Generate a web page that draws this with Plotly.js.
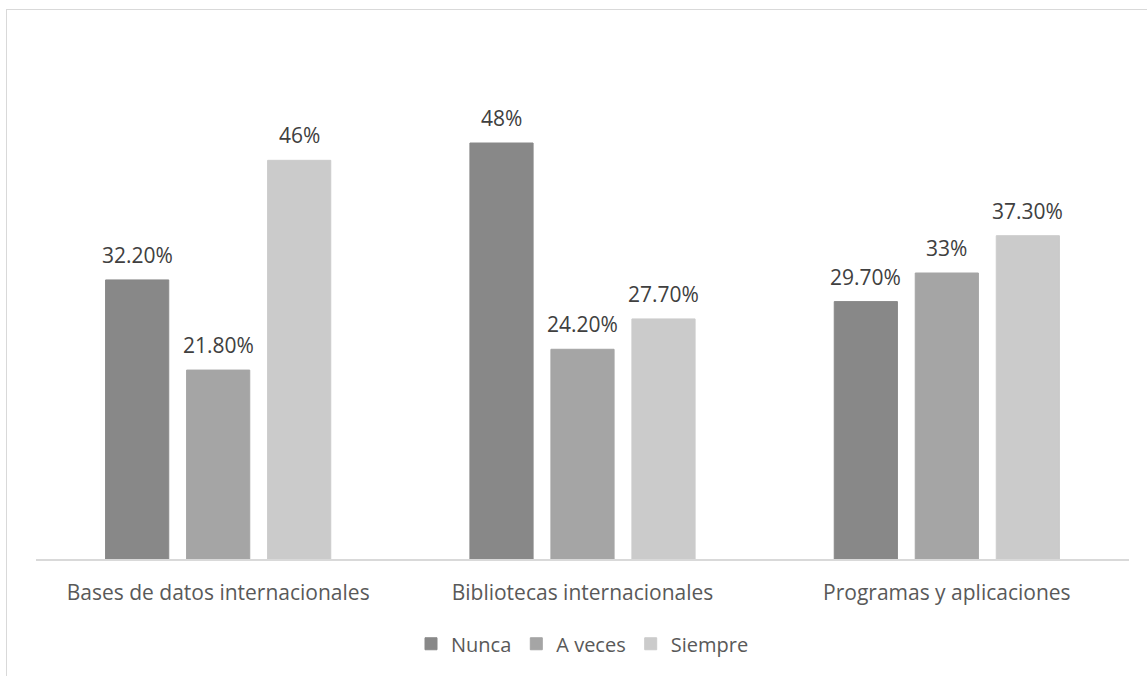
<!DOCTYPE html>
<html>
<head>
<meta charset="utf-8">
<script src="https://cdn.plot.ly/plotly-3.0.1.min.js"></script>
<style>
  html, body { margin: 0; padding: 0; background: #ffffff; overflow: hidden; }
  #chart { position: absolute; left: 0; top: 0; width: 1147px; height: 676px; }
  #frame { position: absolute; left: 6px; top: 9px; width: 1200px; height: 720px;
           border-left: 1.5px solid #d9d9d9; border-top: 1.5px solid #d9d9d9; pointer-events: none; }
</style>
</head>
<body>
<div id="chart"></div>
<div id="frame"></div>
<script>
// ---- data ----
const categories = ['Bases de datos internacionales', 'Bibliotecas internacionales', 'Programas y aplicaciones'];
const seriesNames = ['Nunca', 'A veces', 'Siempre'];
const nunca = [32.2, 48, 29.7];
const aVeces = [21.8, 24.2, 33];
const siempre = [46, 27.7, 37.3];
const nuncaLabels = ['32.20%', '48%', '29.70%'];
const aVecesLabels = ['21.80%', '24.20%', '33%'];
const siempreLabels = ['46%', '27.70%', '37.30%'];

// ---- styles ----
const colors = ['#888888', '#a5a5a5', '#cbcbcb'];
const font = 'Open Sans, sans-serif';
const values = [nunca, aVeces, siempre];
const labels = [nuncaLabels, aVecesLabels, siempreLabels];
const groupShift = [-81, 0, 81];

const traces = values.map((v, i) => ({
  type: 'bar',
  name: seriesNames[i],
  x: categories,
  y: v,
  marker: { color: colors[i], line: { color: colors[i], width: 1 } },
  hoverinfo: 'skip'
}));

const annotations = [];
values.forEach((v, i) => {
  v.forEach((val, j) => {
    annotations.push({
      x: categories[j], y: val, xref: 'x', yref: 'y',
      text: labels[i][j], showarrow: false,
      xshift: groupShift[i], yshift: 25, yanchor: 'middle',
      font: { family: font, size: 21, color: '#404040' }
    });
  });
});

const layout = {
  width: 1147, height: 676,
  margin: { l: 36, r: 18, t: 39, b: 117 },
  paper_bgcolor: 'rgba(0,0,0,0)', plot_bgcolor: 'rgba(0,0,0,0)',
  barmode: 'group', bargap: 0.333, bargroupgap: 0.22,
  font: { family: font, size: 21, color: '#595959' },
  xaxis: {
    showline: true, linecolor: '#d9d9d9', linewidth: 1.5,
    ticks: 'outside', ticklen: 14, tickcolor: 'rgba(0,0,0,0)',
    tickfont: { family: font, size: 21, color: '#595959' },
    showgrid: false, zeroline: false
  },
  yaxis: { range: [0, 60], visible: false, showgrid: false, zeroline: false },
  showlegend: true,
  legend: {
    orientation: 'h', x: 0.5, xanchor: 'center', y: -0.163, yanchor: 'middle',
    font: { family: font, size: 20, color: '#595959' },
    traceorder: 'normal'
  },
  annotations: annotations
};

Plotly.newPlot('chart', traces, layout, { displayModeBar: false, staticPlot: true });
</script>
</body>
</html>
